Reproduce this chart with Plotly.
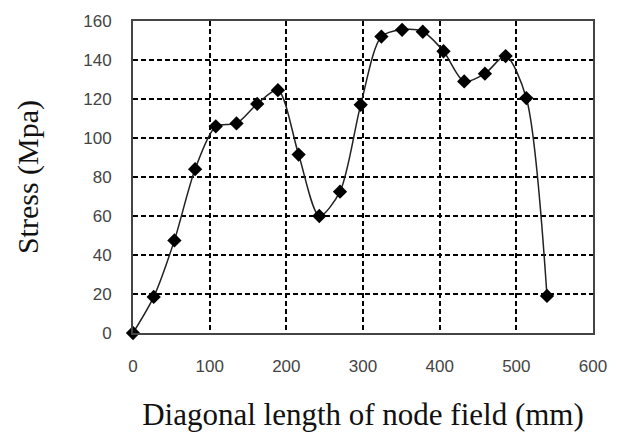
import plotly.graph_objects as go

length_mm = [0, 27, 54, 81, 108, 135, 162, 189, 216, 243, 270, 297, 324, 351, 378, 405, 432, 459, 486, 513, 540]
stress_mpa = [0, 18.5, 47.5, 84, 106, 107.5, 117.5, 124.5, 91.5, 60, 72.5, 117, 152, 155.5, 154.5, 144.5, 129, 133, 142, 120.5, 19]

x_ticks = [0, 100, 200, 300, 400, 500, 600]
y_ticks = [0, 20, 40, 60, 80, 100, 120, 140, 160]

fig = go.Figure()
fig.add_trace(go.Scatter(
    x=length_mm, y=stress_mpa, mode="lines+markers",
    line=dict(color="#222", width=1.5, shape="spline", smoothing=0.8),
    marker=dict(symbol="diamond", size=11, color="black"),
    showlegend=False, cliponaxis=False,
))

axis_common = dict(
    showline=True, linecolor="#444", linewidth=2, mirror=True,
    showgrid=True, gridcolor="black", gridwidth=1.5, griddash="5px,3px",
    zeroline=False, ticks="",
    tickfont=dict(family="Liberation Sans", size=17, color="#444"),
)

fig.update_xaxes(range=[0, 600], tickvals=x_ticks, ticklabelstandoff=17,
                 title=dict(text="Diagonal length of node field (mm)",
                            font=dict(family="Liberation Serif", size=31, color="#111"),
                            standoff=28),
                 **axis_common)
fig.update_yaxes(range=[0, 160], tickvals=y_ticks, ticklabelstandoff=16,
                 title=dict(text="Stress (Mpa)",
                            font=dict(family="Liberation Serif", size=30, color="#111"),
                            standoff=36),
                 **axis_common)

fig.update_layout(
    width=621, height=438,
    margin=dict(l=133, r=28, t=15, b=105),
    paper_bgcolor="white", plot_bgcolor="white",
)

fig.write_html("out.html")
